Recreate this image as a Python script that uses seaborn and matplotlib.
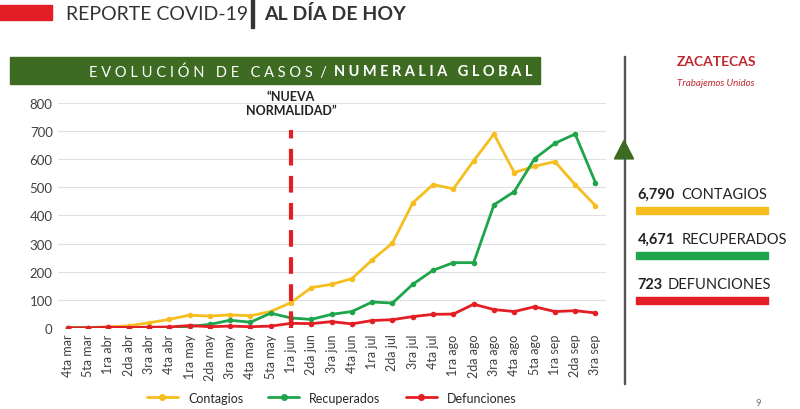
import matplotlib
matplotlib.use("Agg")
import matplotlib.pyplot as plt
import seaborn as sns
import pandas as pd
from matplotlib.patches import Rectangle, Polygon

semanas = ["4ta mar", "5ta mar", "1ra abr", "2da abr", "3ra abr", "4ta abr", "1ra may",
           "2da may", "3ra may", "4ta may", "5ta may", "1ra jun", "2da jun", "3ra jun",
           "4ta jun", "1ra jul", "2da jul", "3ra jul", "4ta jul", "1ra ago", "2da ago",
           "3ra ago", "4ta ago", "5ta ago", "1ra sep", "2da sep", "3ra sep"]
contagios = [0, 1, 3, 7, 18, 30, 45, 42, 46, 43, 58, 90, 143, 155, 175, 242, 302, 445,
             510, 495, 595, 690, 553, 575, 592, 510, 435]
recuperados = [0, 0, 0, 0, 0, 0, 5, 12, 27, 20, 52, 35, 30, 48, 58, 92, 88, 155, 205,
               232, 232, 438, 485, 602, 657, 690, 517]
defunciones = [0, 0, 2, 1, 2, 3, 8, 4, 6, 4, 6, 16, 15, 22, 14, 26, 29, 40, 48, 49, 84,
               65, 58, 75, 58, 61, 53]
series = ["Contagios", "Recuperados", "Defunciones"]
colores = ["#f5be1e", "#1ea54b", "#e31e24"]
totales = ["6,790", "4,671", "723"]
totales_txt = ["CONTAGIOS", "RECUPERADOS", "DEFUNCIONES"]

df = pd.DataFrame({"semana": semanas * 3,
                   "x": list(range(len(semanas))) * 3,
                   "valor": contagios + recuperados + defunciones,
                   "serie": sum([[s] * len(semanas) for s in series], [])})

sns.set_style("white")
plt.rcParams["font.family"] = ["Lato", "DejaVu Sans"]
fig = plt.figure(figsize=(8, 4.1), dpi=100)
ax = fig.add_axes([0.072, 0.198, 0.685, 0.548])
sns.lineplot(data=df, x="x", y="valor", hue="serie", palette=colores, marker="o",
             markersize=4, markeredgewidth=0, linewidth=2, ax=ax, legend=False)
ax.set_xlim(-0.5, len(semanas) - 0.5)
ax.set_ylim(0, 800)
ax.set_yticks(range(0, 801, 100))
ax.set_xticks(range(len(semanas)))
ax.set_xticklabels(semanas, rotation=90, fontsize=9, color="#404040")
ax.tick_params(axis="y", labelsize=9.5, colors="#404040", length=0)
ax.tick_params(axis="x", length=0, pad=4)
ax.grid(axis="y", color="#e0e0e0", linewidth=0.8)
ax.set_xlabel("")
ax.set_ylabel("")
sns.despine(ax=ax, left=True, bottom=True)
ax.axvline(11, ymin=0, ymax=0.88, color="#e31e24", linestyle=(0, (4, 2.5)), linewidth=3)
ax.text(11, 800, "\u201cNUEVA\nNORMALIDAD\u201d", ha="center", va="center", fontsize=9,
        fontweight="bold", color="#222222", linespacing=1.2)

for s, c in zip(series, colores):
    ax.plot([], [], color=c, marker="o", markersize=4, linewidth=2, label=s)
ax.legend(loc="upper center", bbox_to_anchor=(0.5, -0.235), ncol=3, frameon=False,
          fontsize=9, handlelength=2.5)

# encabezado
fig.patches.append(Rectangle((0, 0.95), 0.065, 0.035, transform=fig.transFigure,
                             color="#e31e24"))
fig.text(0.082, 0.965, "REPORTE COVID-19", fontsize=14, color="#333333", va="center")
fig.patches.append(Rectangle((0.314, 0.93), 0.003, 0.07, transform=fig.transFigure,
                             color="#333333"))
fig.text(0.33, 0.965, "AL DÍA DE HOY", fontsize=14, fontweight="bold", color="#333333",
         va="center")
fig.patches.append(Rectangle((0.013, 0.793), 0.662, 0.065, transform=fig.transFigure,
                             color="#3d6b21"))
fig.text(0.408, 0.825, "E V O L U C I Ó N   D E   C A S O S  /", fontsize=10.5,
         color="white", va="center", ha="right")
fig.text(0.418, 0.825, "N U M E R A L I A   G L O B A L", fontsize=10.5, color="white",
         va="center", fontweight="bold")

# lateral
fig.patches.append(Rectangle((0.78, 0.06), 0.0015, 0.8, transform=fig.transFigure,
                             color="#555555"))
fig.patches.append(Polygon([[0.768, 0.61], [0.792, 0.61], [0.78, 0.655]], closed=True,
                           transform=fig.transFigure, color="#3d6b21"))
fig.text(0.895, 0.84, "ZACATECAS", fontsize=10, fontweight="bold", color="#c0272d",
         ha="center")
fig.text(0.895, 0.79, "Trabajemos Unidos", fontsize=7, style="italic", color="#c0272d",
         ha="center")
for i, (t, txt, c) in enumerate(zip(totales, totales_txt, colores)):
    y = 0.525 - i * 0.11
    fig.text(0.797, y, t, fontsize=10.5, fontweight="bold", color="#222222",
             va="center")
    fig.text(0.852 if i < 2 else 0.835, y, txt, fontsize=10.5, color="#222222",
             va="center")
    fig.patches.append(Rectangle((0.795, y - 0.05), 0.165, 0.018,
                                 transform=fig.transFigure, color=c))
fig.text(0.945, 0.01, "9", fontsize=7, color="#777777")

fig.savefig("out.png", dpi=100)
